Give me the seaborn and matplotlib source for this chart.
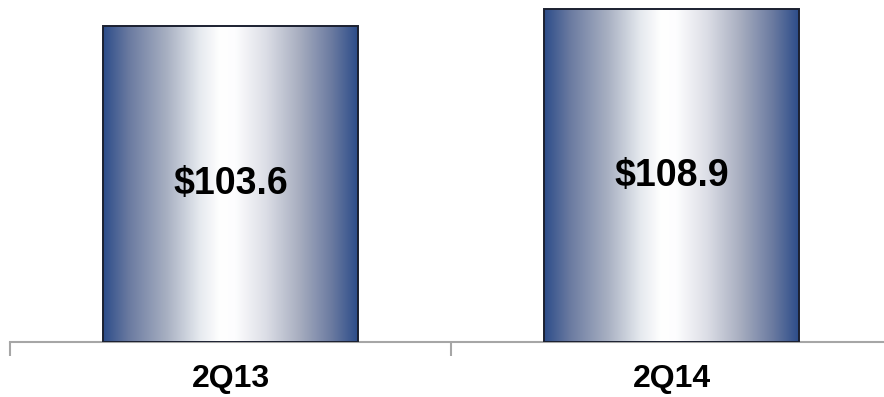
import numpy as np
import pandas as pd
import matplotlib
matplotlib.use("Agg")
import matplotlib.pyplot as plt
from matplotlib.colors import LinearSegmentedColormap
import seaborn as sns

categories = ["2Q13", "2Q14"]
values = [103.6, 108.9]
value_labels = ["$103.6", "$108.9"]

sns.set_theme(style="white")
plt.rcParams["font.family"] = ["Liberation Sans", "DejaVu Sans"]

df = pd.DataFrame({"quarter": categories, "value": values})

fig = plt.figure(figsize=(8.84, 3.97), dpi=100)
ax = fig.add_axes([10 / 884, 55 / 397, 882 / 884, 342 / 397])

sns.barplot(data=df, x="quarter", y="value", ax=ax, width=0.576,
            color="white", edgecolor="#1b2030", linewidth=1.4, zorder=3)

dark = "#2d4d8a"
cmap = LinearSegmentedColormap.from_list(
    "bar_grad",
    [(0.0, dark), (0.1, "#6a7aa0"), (0.25, "#a8b0c2"), (0.38, "#e6eaef"),
     (0.46, "#ffffff"), (0.52, "#fdfdfe"), (0.64, "#dcdee6"),
     (0.77, "#a8aec0"), (0.9, "#6a7aa0"), (1.0, dark)])
grad = np.linspace(0, 1, 256).reshape(1, -1)

for patch, lab in zip(ax.patches, value_labels):
    x0, y0 = patch.get_x(), patch.get_y()
    w, h = patch.get_width(), patch.get_height()
    im = ax.imshow(grad, cmap=cmap, aspect="auto",
                   extent=[x0, x0 + w, y0, y0 + h], zorder=3.5,
                   interpolation="bilinear")
    im.set_clip_path(patch)
    patch.set_facecolor("none")
    patch.set_zorder(4)
    ax.text(x0 + w / 2, y0 + h / 2, lab, ha="center", va="center",
            fontsize=27, fontweight="bold", color="black", zorder=5)

ax.set_xlim(-0.5, 1.5)
ax.set_ylim(0, 112)
ax.set_xlabel("")
ax.set_ylabel("")
ax.set_yticks([])

for s in ["left", "right", "top"]:
    ax.spines[s].set_visible(False)
ax.spines["bottom"].set_color("#a6a6a6")
ax.spines["bottom"].set_linewidth(1.5)

ax.set_xticks([0, 1])
ax.set_xticklabels(categories, fontsize=23, fontweight="bold")
ax.tick_params(axis="x", which="major", length=0, pad=16, colors="black")
ax.set_xticks([-0.5, 0.5, 1.5], minor=True)
ax.tick_params(axis="x", which="minor", length=10, width=1.5,
               color="#a6a6a6", bottom=True, direction="out")

fig.savefig("out.png", dpi=100)
